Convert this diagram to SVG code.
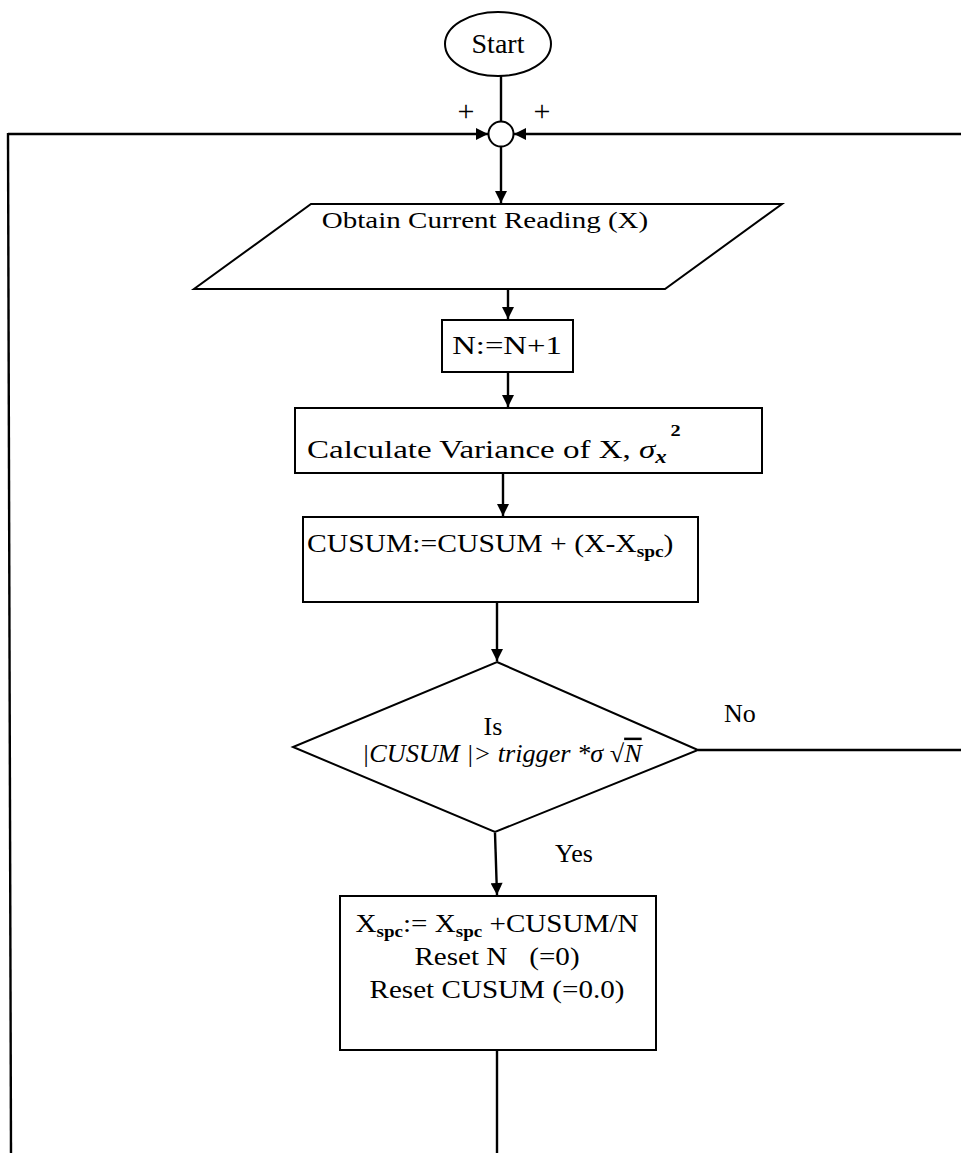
<svg xmlns="http://www.w3.org/2000/svg" width="961" height="1153" viewBox="0 0 961 1153">
<style>
.s{fill:#fff;stroke:#000;stroke-width:2}
.c line{fill:none;stroke:#000;stroke-width:2.4}
.t{font-family:"Liberation Serif","Times New Roman",serif;font-size:26px;fill:#000}
.i{font-style:italic}
.pre{white-space:pre}
</style>
<defs>
<marker id="ah" viewBox="0 0 10 10" refX="10" refY="5" markerWidth="13" markerHeight="12" markerUnits="userSpaceOnUse" orient="auto"><path d="M0,0 L10,5 L0,10 z" fill="#000"/></marker>
</defs>
<rect width="961" height="1153" fill="#fff"/>
<g id="connectors" class="c">
<line x1="501" y1="76" x2="501" y2="122"/>
<line x1="8" y1="134" x2="488" y2="134" marker-end="url(#ah)"/>
<line x1="961" y1="134" x2="514" y2="134" marker-end="url(#ah)"/>
<line x1="8" y1="133" x2="11" y2="1153"/>
<line x1="501" y1="147" x2="501" y2="203" marker-end="url(#ah)"/>
<line x1="508" y1="290" x2="508" y2="319" marker-end="url(#ah)"/>
<line x1="508" y1="373" x2="508" y2="407" marker-end="url(#ah)"/>
<line x1="503" y1="474" x2="503" y2="516" marker-end="url(#ah)"/>
<line x1="497" y1="603" x2="497" y2="661" marker-end="url(#ah)"/>
<line x1="698" y1="750" x2="961" y2="750"/>
<line x1="495" y1="833" x2="497" y2="895" marker-end="url(#ah)"/>
<line x1="497" y1="1051" x2="497" y2="1153"/>
</g>
<g id="labels" class="t">
<text x="466" y="121" text-anchor="middle" style="font-size:30px">+</text>
<text x="542" y="121" text-anchor="middle" style="font-size:30px">+</text>
<text x="724" y="722">No</text>
<text x="555" y="862">Yes</text>
</g>
<g id="start">
<ellipse class="s" cx="498" cy="44" rx="53" ry="32"/>
<text class="t" x="498" y="53" text-anchor="middle" style="font-size:28px">Start</text>
</g>
<g id="junction">
<circle class="s" cx="501" cy="134" r="12.5"/>
</g>
<g id="obtain">
<polygon class="s" points="311,204 782,204 665,289 194,289"/>
<text class="t" transform="translate(485,228) scale(1.21,1)" text-anchor="middle" style="font-size:24px">Obtain Current Reading (X)</text>
</g>
<g id="increment">
<rect class="s" x="442" y="320" width="131" height="52"/>
<text class="t" transform="translate(507,354) scale(1.26,1)" text-anchor="middle">N:=N+1</text>
</g>
<g id="variance">
<rect class="s" x="295" y="408" width="467" height="65"/>
<text class="t" transform="translate(307,458) scale(1.27,1)">Calculate Variance of X, <tspan class="i">σ</tspan><tspan class="i" style="font-size:18px;font-weight:bold" dy="5">x</tspan><tspan style="font-size:16px;font-weight:bold" dx="3" dy="-27">2</tspan></text>
</g>
<g id="cusum">
<rect class="s" x="303" y="517" width="395" height="85"/>
<text class="t" transform="translate(307,552) scale(1.14,1)">CUSUM:=CUSUM + (X-X<tspan style="font-size:17px;font-weight:bold" dy="5">spc</tspan><tspan dy="-5">)</tspan></text>
</g>
<g id="decision">
<polygon class="s" points="497,662 698,750 495,832 293,747"/>
<text class="t" x="493" y="735" text-anchor="middle">Is</text>
<text class="t i pre" transform="translate(362,762) scale(1.05,1)" style="font-size:25px">|CUSUM |&gt; trigger *σ √<tspan style="text-decoration:overline">N</tspan></text>
</g>
<g id="update">
<rect class="s" x="340" y="896" width="316" height="154"/>
<text class="t" transform="translate(497,932) scale(1.12,1)" text-anchor="middle">X<tspan style="font-size:17px;font-weight:bold" dy="5">spc</tspan><tspan dy="-5">:= X</tspan><tspan style="font-size:17px;font-weight:bold" dy="5">spc</tspan><tspan dy="-5"> +CUSUM/N</tspan></text>
<text class="t pre" transform="translate(497,965) scale(1.12,1)" text-anchor="middle">Reset N   (=0)</text>
<text class="t" transform="translate(497,998) scale(1.12,1)" text-anchor="middle">Reset CUSUM (=0.0)</text>
</g>
</svg>
